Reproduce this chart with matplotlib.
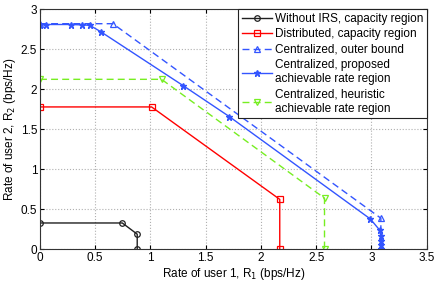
import matplotlib
matplotlib.use('Agg')
import matplotlib.pyplot as plt

# rate region corner points (R1, R2) in bps/Hz
noirs_r1 = [0, 0.745, 0.88, 0.88]
noirs_r2 = [0.33, 0.33, 0.19, 0]
dist_r1 = [0, 1.01, 2.17, 2.17]
dist_r2 = [1.78, 1.78, 0.625, 0]
outer_r1 = [0, 0.66, 3.085, 3.085]
outer_r2 = [2.82, 2.82, 0.39, 0]
prop_r1 = [0, 0.054, 0.278, 0.38, 0.45, 0.55, 1.297, 1.713, 2.99, 3.075, 3.085, 3.09, 3.09, 3.09]
prop_r2 = [2.81, 2.81, 2.81, 2.805, 2.80, 2.72, 2.045, 1.66, 0.38, 0.24, 0.17, 0.11, 0.05, 0]
heur_r1 = [0, 1.10, 2.575, 2.575]
heur_r2 = [2.125, 2.125, 0.64, 0]

plt.rcParams['font.family'] = 'Liberation Sans'
fig = plt.figure(figsize=(4.36, 2.86), dpi=100)
ax = fig.add_axes([0.0917, 0.128, 0.887, 0.8395])

ax.plot(noirs_r1, noirs_r2, '-o', color='#202020', lw=1, ms=4, mfc='none', mew=0.9,
        label='Without IRS, capacity region')
ax.plot(dist_r1, dist_r2, '-s', color='red', lw=1, ms=4, mfc='none', mew=0.9,
        label='Distributed, capacity region')
ax.plot(outer_r1, outer_r2, '--^', color='#3355ff', lw=1, ms=4.5, mfc='none', mew=0.9,
        dashes=(5, 3), label='Centralized, outer bound')
ax.plot(prop_r1, prop_r2, '-*', color='#3355ff', lw=1, ms=5,
        label='Centralized, proposed\nachievable rate region')
ax.plot(heur_r1, heur_r2, '--v', color='#77ee22', lw=1, ms=4.5, mfc='none', mew=0.9,
        dashes=(5, 3), label='Centralized, heuristic\nachievable rate region')

ax.set_xlim(0, 3.5)
ax.set_ylim(0, 3)
ax.set_xticks([0, 0.5, 1, 1.5, 2, 2.5, 3, 3.5])
ax.set_xticklabels(['0', '0.5', '1', '1.5', '2', '2.5', '3', '3.5'])
ax.set_yticks([0, 0.5, 1, 1.5, 2, 2.5, 3])
ax.set_yticklabels(['0', '0.5', '1', '1.5', '2', '2.5', '3'])
ax.grid(True, linestyle=':', color='#b0b0b0', lw=0.8)
ax.tick_params(labelsize=8.5, direction='in', length=3, top=True, right=True, pad=2)
for s in ax.spines.values():
    s.set_color('#333333')
    s.set_linewidth(0.8)
ax.set_xlabel('Rate of user 1, R$_1$ (bps/Hz)', fontsize=8.5, labelpad=1)
ax.set_ylabel('Rate of user 2, R$_2$ (bps/Hz)', fontsize=8.5, labelpad=2)

leg = ax.legend(loc='upper right', fontsize=8.5, fancybox=False, framealpha=1,
                edgecolor='#222222', borderpad=0.3, labelspacing=0.3,
                handlelength=2.6, handletextpad=0.2, borderaxespad=0)
leg.get_frame().set_linewidth(0.8)

fig.savefig('out.png', dpi=100)
